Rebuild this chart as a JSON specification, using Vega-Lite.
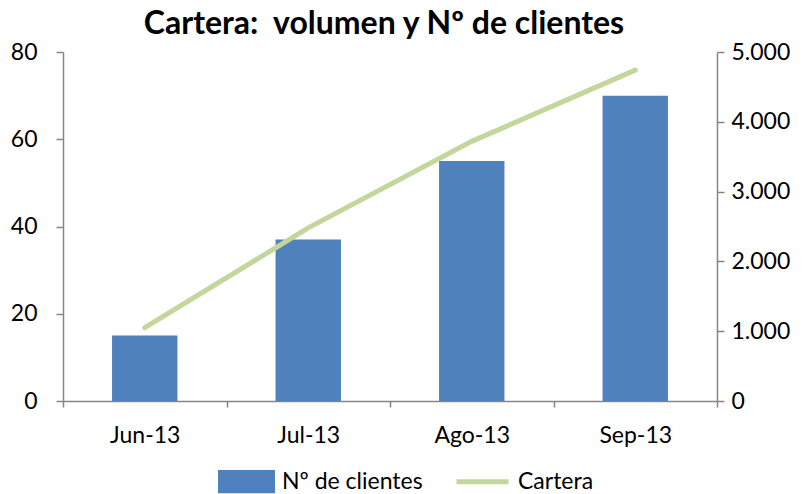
{
  "$schema": "https://vega.github.io/schema/vega-lite/v6.json",
  "width": 654,
  "height": 349,
  "autosize": {"type": "none"},
  "padding": {"left": 63, "top": 52, "right": 85, "bottom": 93},
  "background": "white",
  "title": {
    "text": "Cartera:\u00a0 volumen y Nº de clientes",
    "font": "Lato",
    "fontSize": 32,
    "fontWeight": "bold",
    "color": "#000000",
    "anchor": "middle",
    "offset": 0,
    "dx": -6
  },
  "data": {
    "values": [
      {"mes": "Jun-13", "clientes": 15, "cartera": 1050},
      {"mes": "Jul-13", "clientes": 37, "cartera": 2480},
      {"mes": "Ago-13", "clientes": 55, "cartera": 3720},
      {"mes": "Sep-13", "clientes": 70, "cartera": 4740}
    ]
  },
  "encoding": {
    "x": {
      "field": "mes",
      "type": "nominal",
      "sort": ["Jun-13", "Jul-13", "Ago-13", "Sep-13"],
      "scale": {"paddingInner": 0, "paddingOuter": 0},
      "axis": {
        "title": null,
        "labelAngle": 0,
        "tickBand": "extent",
        "tickSize": 6,
        "labelPadding": 17,
        "domainColor": "#868686",
        "tickColor": "#868686",
        "labelFont": "Lato",
        "labelFontSize": 23,
        "labelColor": "#000000"
      }
    }
  },
  "layer": [
    {
      "mark": {"type": "bar", "color": "#4F81BD", "width": {"band": 0.4}},
      "encoding": {
        "y": {
          "field": "clientes",
          "type": "quantitative",
          "scale": {"domain": [0, 80]},
          "axis": {
            "title": null,
            "orient": "left",
            "values": [0, 20, 40, 60, 80],
            "grid": false,
            "tickSize": 7,
            "labelPadding": 19,
            "domainColor": "#868686",
            "tickColor": "#868686",
            "labelFont": "Lato",
            "labelFontSize": 23,
            "labelColor": "#000000"
          }
        },
        "color": {
          "datum": "Nº de clientes",
          "scale": {"domain": ["Nº de clientes", "Cartera"], "range": ["#4F81BD", "#C3D69B"]},
          "legend": {
            "title": null,
            "orient": "none",
            "direction": "horizontal",
            "legendX": 155,
            "legendY": 401,
            "symbolSize": 2704,
            "labelOffset": 7,
            "columnPadding": 23,
            "padding": 0,
            "labelFont": "Lato",
            "labelFontSize": 23,
            "labelColor": "#000000",
            "encode": {
              "symbols": {
                "update": {
                  "shape": [
                    {"test": "datum.value === 'Cartera'", "value": "M-1,-0.35M-1,0.35M-1,0H1"},
                    {"value": "M-1,-0.35H1V0.35H-1Z"}
                  ],
                  "fill": [
                    {"test": "datum.value === 'Cartera'", "value": "transparent"},
                    {"value": "#4F81BD"}
                  ],
                  "stroke": [
                    {"test": "datum.value === 'Cartera'", "value": "#C3D69B"},
                    {"value": "transparent"}
                  ],
                  "strokeWidth": {"value": 5},
                  "opacity": {"value": 1}
                }
              }
            }
          }
        }
      }
    },
    {
      "mark": {"type": "line", "strokeWidth": 5, "strokeCap": "round", "color": "#C3D69B"},
      "encoding": {
        "y": {
          "field": "cartera",
          "type": "quantitative",
          "scale": {"domain": [0, 5000]},
          "axis": {
            "title": null,
            "orient": "right",
            "values": [0, 1000, 2000, 3000, 4000, 5000],
            "labelExpr": "replace(format(datum.value, ','), ',', '.')",
            "grid": false,
            "tickSize": 7,
            "labelPadding": 7,
            "domainColor": "#868686",
            "tickColor": "#868686",
            "labelFont": "Lato",
            "labelFontSize": 23,
            "labelColor": "#000000"
          }
        },
        "color": {"datum": "Cartera"}
      }
    }
  ],
  "resolve": {"scale": {"y": "independent"}},
  "config": {
    "view": {"stroke": null},
    "axis": {"domainWidth": 1.5, "tickWidth": 1.5}
  }
}
